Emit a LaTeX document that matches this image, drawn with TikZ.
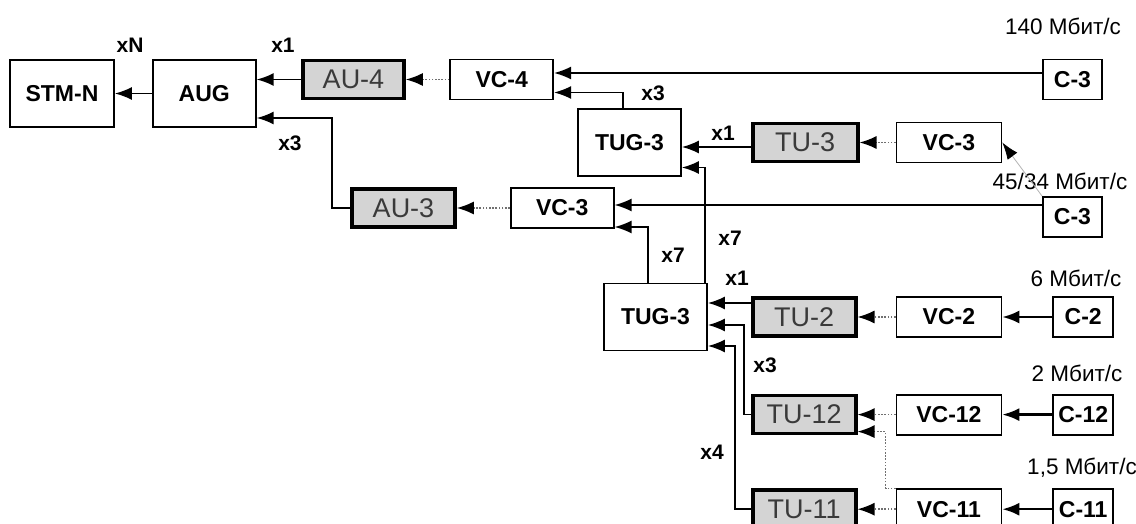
\documentclass[tikz,border=0pt]{standalone}
\usepackage{fontspec}
\setmainfont{Liberation Sans}
\usepackage{tikz}
\usetikzlibrary{arrows.meta, positioning, calc}
\definecolor{seryj}{HTML}{D4D4D4}
\definecolor{tekstser}{HTML}{3A3A3A}
\definecolor{punkt}{HTML}{707070}
\tikzset{
  blok/.style={rectangle, draw=black, line width=1.8pt, fill=white,
    minimum width=103pt, minimum height=40pt, inner sep=2pt,
    font=\fontsize{23}{26}\selectfont\bfseries},
  uzel/.style={blok, minimum height=67pt},
  cblok/.style={blok, minimum width=60pt},
  sblok/.style={rectangle, draw=black, line width=3.6pt, fill=seryj,
    minimum width=103pt, minimum height=38pt, inner sep=2pt, text=tekstser,
    font=\fontsize{27}{30}\selectfont},
  strelka/.style={-{Latex[length=17pt,width=13pt]}, line width=1.6pt},
  zhirnaja/.style={strelka, line width=2.4pt},
  punktir/.style={-{Latex[length=17pt,width=13pt,color=black]}, line width=1.6pt,
    punkt, dash pattern=on 1.6pt off 1.6pt},
  metka/.style={font=\fontsize{21}{24}\selectfont\bfseries, inner sep=0pt},
  skorost/.style={font=\fontsize{22.5}{26}\selectfont, inner sep=0pt}
}

\begin{document}
\begin{tikzpicture}[x=1pt, y=-1pt]
  \useasboundingbox (0,0) rectangle (1136,524);

  % --- Верхний ряд: STM-N, AUG, AU-4, VC-4 ---
  \node[uzel, minimum width=104pt] (stm) at (62,93.5) {STM-N};
  \node[uzel, right=37pt of stm] (aug) {AUG};
  \node[sblok, minimum width=101pt, right=44.5pt of aug, yshift=14pt] (au4) {AU-4};
  \node[blok, right=43.5pt of au4] (vc4) {VC-4};
  \node[cblok, minimum width=59pt] (c3a) at (1072.5,79.5) {C-3};

  % --- Верхний TUG-3 ---
  \node[uzel] (tuga) at (629.5,142.5) {TUG-3};
  \node[sblok, minimum width=105pt, right=69pt of tuga] (tu3) {TU-3};
  \node[blok, minimum width=105pt, right=36pt of tu3] (vc3a) {VC-3};

  % --- AU-3 ---
  \node[sblok] (au3) at (403.5,208) {AU-3};
  \node[blok, right=53pt of au3] (vc3b) {VC-3};
  \node[cblok, minimum width=59pt] (c3b) at (1072.5,217) {C-3};

  % --- Нижний TUG-3 и его притоки ---
  \node[uzel] (tugb) at (655.5,317) {TUG-3};
  \node[sblok, right=43pt of tugb] (tu2) {TU-2};
  \node[blok, minimum width=105pt, right=38pt of tu2] (vc2) {VC-2};
  \node[cblok, right=50pt of vc2] (c2) {C-2};

  \node[sblok, below=56pt of tu2] (tu12) {TU-12};
  \node[blok, minimum width=105pt, right=38pt of tu12] (vc12) {VC-12};
  \node[cblok, right=50pt of vc12] (c12) {C-12};

  \node[sblok, below=53pt of tu12] (tu11) {TU-11};
  \node[blok, minimum width=105pt, right=38pt of tu11] (vc11) {VC-11};
  \node[cblok, right=50pt of vc11] (c11) {C-11};

  % --- Скорости ---
  \node[skorost] (r140) at (1063,26) {140 Мбит/с};
  \node[skorost] (r45) at (1060,181) {45/34 Мбит/с};
  \node[skorost] (r6) at (1076,278) {6 Мбит/с};
  \node[skorost] (r2) at (1077,373) {2 Мбит/с};
  \node[skorost] (r15) at (1082,468) {1,5 Мбит/с};

  % --- Кратности ---
  \node[metka] (kn) at (130,45) {xN};
  \node[metka] (k1a) at (283,45) {x1};
  \node[metka] (k3a) at (290,143) {x3};
  \node[metka] (k3b) at (653,93) {x3};
  \node[metka] (k1b) at (723,133) {x1};
  \node[metka] (k7a) at (673,255) {x7};
  \node[metka] (k7b) at (730,238) {x7};
  \node[metka] (k1c) at (737,278) {x1};
  \node[metka] (k3c) at (765,365) {x3};
  \node[metka] (k4) at (712,452) {x4};

  % --- Стрелки ---
  \draw[strelka] (aug.west) -- (stm.east);
  \draw[strelka] (au4.west) -- (au4.west -| aug.east);
  \draw[strelka] (au3.west) -- ++(-18,0) |- ($(aug.east)+(0,24.5)$);
  \draw[punktir] (vc4.west) -- (au4.east);
  \draw[strelka] ($(c3a.west)+(0,-6.5)$) -- ($(vc4.east)+(0,-6.5)$);
  \draw[strelka] ($(tuga.north)+(-6.5,0)$) |- ($(vc4.east)+(0,13)$);

  \draw[strelka] ($(tu3.west)+(0,4.5)$) -- ($(tuga.east)+(0,4.5)$);
  \draw[punktir] (vc3a.west) -- (tu3.east);
  \draw[-{Latex[length=17pt,width=12pt,color=black]}, line width=0.8pt, gray!60]
    (c3b.north west) -- (vc3a.east);

  \draw[punktir] (vc3b.west) -- (au3.east);
  \coordinate (vxod) at ($(vc3b.east)+(0,-3)$);
  \draw[strelka] (c3b.west |- vxod) -- (vxod);
  \draw[strelka] ($(tugb.north)+(-7.5,0)$) |- ($(vc3b.east)+(0,19)$);
  \draw[strelka] ($(tugb.north east)+(-3,0)$) |- ($(tuga.east)+(0,25)$);

  \draw[strelka] ($(tu2.west)+(0,-14)$) -- ($(tugb.east)+(0,-14)$);
  \draw[strelka] (tu12.west) -- ++(-7,0) |- ($(tugb.east)+(0,8)$);
  \draw[strelka] (tu11.west) -- ++(-16,0) |- ($(tugb.east)+(0,29)$);

  \draw[punktir] (vc2.west) -- (tu2.east);
  \draw[punktir] (vc12.west) -- (tu12.east);
  \draw[punktir] (vc11.west) -- (tu11.east);
  \draw[punktir] (vc11.north west) -- ++(-10,0) |- ($(tu12.east)+(0,17)$);

  \draw[zhirnaja] (c2.west) -- (vc2.east);
  \draw[zhirnaja] (c12.west) -- (vc12.east);
  \draw[zhirnaja] (c11.west) -- (vc11.east);

\end{tikzpicture}
\end{document}
